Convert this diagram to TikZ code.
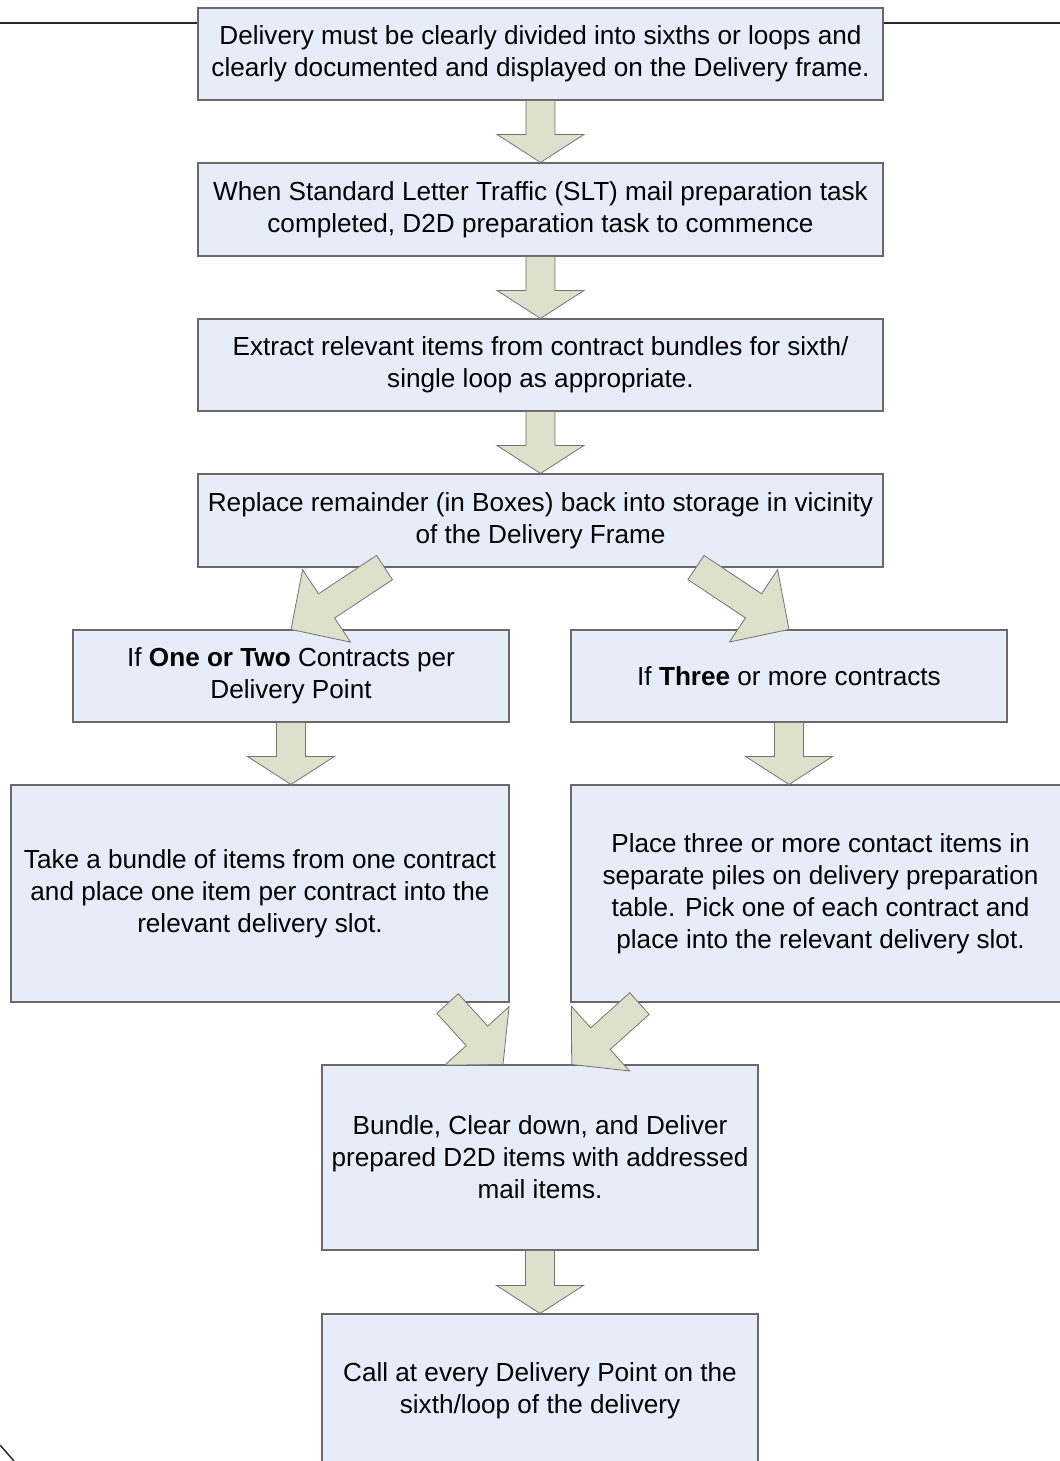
\documentclass[tikz,border=0pt]{standalone}
\usepackage{fontspec}
\setmainfont{Liberation Sans}
\usetikzlibrary{calc}
\definecolor{boxfill}{RGB}{230,236,248}
\definecolor{arrfill}{RGB}{221,224,202}
\definecolor{boxline}{RGB}{105,105,105}
\definecolor{arrline}{RGB}{115,115,115}
\definecolor{edgeline}{RGB}{40,40,40}
\tikzset{
  box/.style={draw=boxline, fill=boxfill, line width=0.8pt, inner sep=0pt, align=center,
    font=\fontsize{19.6}{24}\selectfont},
  sz/.style 2 args={minimum width=#1*0.75pt, minimum height=#2*0.75pt},
  blockarr/.style={draw=arrline, fill=arrfill, line width=0.6pt, line join=miter},
  edge/.style={draw=edgeline, line width=1.1pt},
}
% #1 head length, #2 tail, #3 tip
\newcommand{\blockarrow}[3][21pt]{%
  \coordinate (ba-c) at ($(#3)!#1!(#2)$);
  \draw[blockarr] ($(#2)!10.9pt!90:(#3)$) -- ($(ba-c)!10.9pt!90:(#3)$)
    -- ($(ba-c)!32.6pt!90:(#3)$) -- (#3) -- ($(ba-c)!32.6pt!-90:(#3)$)
    -- ($(ba-c)!10.9pt!-90:(#3)$) -- ($(#2)!10.9pt!-90:(#3)$) -- cycle;}
\begin{document}
\begin{tikzpicture}[x=0.75pt,y=-0.75pt]
\useasboundingbox (0,0) rectangle (1060,1461);
\clip (0,0) rectangle (1060,1461);
% free lines
\coordinate (la) at (0,23);
\coordinate (lb) at (198,23);
\coordinate (lc) at (883,23);
\coordinate (ld) at (1060,23);
\coordinate (le) at (0,1445);
\coordinate (lf) at (14,1461);
\draw[edge] (la) -- (lb);
\draw[edge] (lc) -- (ld);
\draw[edge] (le) -- (lf);
% boxes
\node[box, sz={685}{92}] (b1) at (540.5,54) {Delivery must be clearly divided into sixths or loops and\\clearly documented and displayed on the Delivery frame.};
\node[box, sz={685}{93}] (b2) at (540.5,209.5) {When Standard Letter Traffic (SLT) mail preparation task\\completed, D2D preparation task to commence};
\node[box, sz={685}{92}] (b3) at (540.5,365) {Extract relevant items from contract bundles for sixth/\\single loop as appropriate.};
\node[box, sz={685}{93}] (b4) at (540.5,520.5) {Replace remainder (in Boxes) back into storage in vicinity\\of the Delivery Frame};
\node[box, sz={436}{92}] (b5l) at (291,676) {If \textbf{One or Two} Contracts per\\Delivery Point};
\node[box, sz={436}{92}] (b5r) at (789,676) {If \textbf{Three} or more contracts};
\node[box, sz={498}{217}] (b6l) at (260,893.5) {Take a bundle of items from one contract\\and place one item per contract into the\\relevant delivery slot.};
\node[box, sz={499}{217}] (b6r) at (820.5,893.5) {Place three or more contact items in\\separate piles on delivery preparation\\table. Pick one of each contract and\\place into the relevant delivery slot.};
\node[box, sz={436}{185}] (b7) at (540,1157.5) {Bundle, Clear down, and Deliver\\prepared D2D items with addressed\\mail items.};
\node[box, sz={436}{154}] (b8) at (540,1391) {Call at every Delivery Point on the\\sixth/loop of the delivery};
% arrows
\blockarrow{b1.south}{b2.north}
\blockarrow{b2.south}{b3.north}
\blockarrow{b3.south}{b4.north}
\coordinate (t4l) at ($(b4.south)+(-156,0)$);
\coordinate (t4r) at ($(b4.south)+(155.5,0)$);
\blockarrow[32pt]{t4l}{b5l.north}
\blockarrow[32pt]{t4r}{b5r.north}
\coordinate (h6l) at (b6l.north -| b5l.south);
\coordinate (h6r) at (b6r.north -| b5r.south);
\blockarrow{b5l.south}{h6l}
\blockarrow{b5r.south}{h6r}
\coordinate (t6l) at ($(b6l.south east)+(-62,1)$);
\coordinate (h7l) at ($(b7.north)+(-37,0)$);
\coordinate (t6r) at ($(b6r.south west)+(69,1)$);
\coordinate (h7r) at ($(b7.north)+(31.7,0)$);
\blockarrow[29pt]{t6l}{h7l}
\blockarrow[29pt]{t6r}{h7r}
\blockarrow{b7.south}{b8.north}
\end{tikzpicture}
\end{document}
